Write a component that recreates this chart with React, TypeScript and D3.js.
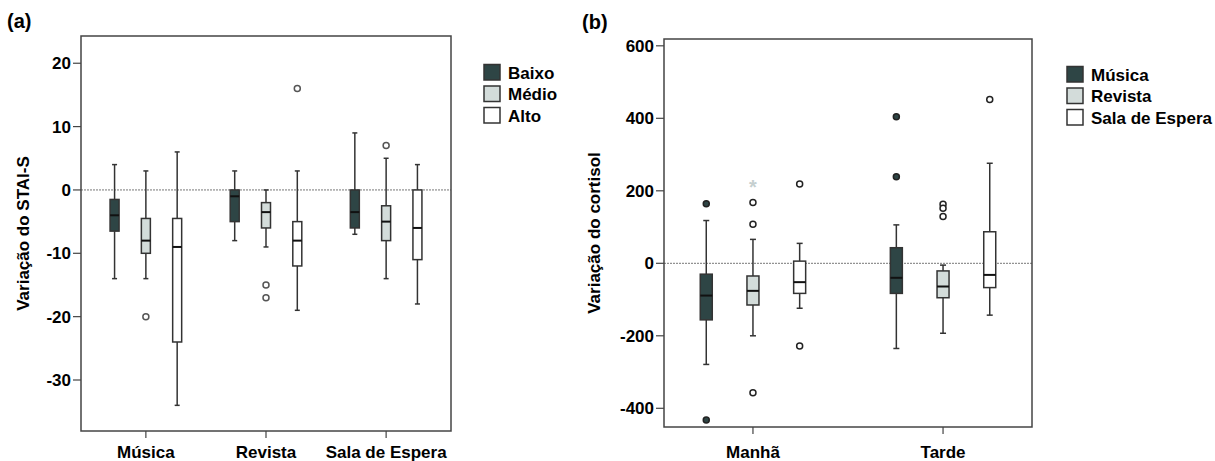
import React from "react";
import * as d3 from "d3";

// ---------- Panel (a) data ----------
const categoriesA = ["Música", "Revista", "Sala de Espera"];
const seriesA = ["Baixo", "Médio", "Alto"];
// [lowerWhisker, q1, median, q3, upperWhisker] per category, per series
const statsMusicaA = [[-14, -6.5, -4, -1.5, 4], [-14, -10, -8, -4.5, 3], [-34, -24, -9, -4.5, 6]];
const statsRevistaA = [[-8, -5, -1, 0, 3], [-9, -6, -3.5, -2, 0], [-19, -12, -8, -5, 3]];
const statsSalaA = [[-7, -6, -3.5, 0, 9], [-14, -8, -5, -2.5, 5], [-18, -11, -6, 0, 4]];
const outliersMusicaA = [[], [-20], []];
const outliersRevistaA = [[], [-15, -17], [16]];
const outliersSalaA = [[], [7], []];
const ticksA = [20, 10, 0, -10, -20, -30];

// ---------- Panel (b) data ----------
const categoriesB = ["Manhã", "Tarde"];
const seriesB = ["Música", "Revista", "Sala de Espera"];
const statsManhaB = [[-279, -156, -89, -30, 118], [-200, -115, -76, -35, 66], [-124, -83, -52, 6, 55]];
const statsTardeB = [[-235, -83, -40, 43, 106], [-193, -95, -64, -21, -5], [-143, -67, -32, 87, 276]];
const outliersManhaB = [[164, -432], [168, 108, -357], [219, -228]];
const outliersTardeB = [[404, 239], [163, 152, 129], [452]];
const extremesManhaB = [[], [221], []];
const extremesTardeB = [[], [], []];
const ticksB = [600, 400, 200, 0, -200, -400];

const fills = ["#2e4545", "#d3dcda", "#ffffff"];
const FONT = "'Liberation Sans', Arial, Helvetica, sans-serif";

type PanelProps = {
  label: string;
  title: string;
  categories: string[];
  series: string[];
  stats: number[][][];
  outliers: number[][][];
  extremes: number[][][];
  ticks: number[];
  frame: { x0: number; x1: number; y0: number; y1: number };
  yDomain: [number, number];
  padding: number;
  offset: number;
  boxW: number;
  capW: number;
  filledOutlier: boolean;
  outlierStroke: string;
  labelPos: [number, number];
  titleX: number;
  legendX: number;
  legendY: number;
};

function Panel(p: PanelProps) {
  const { x0, x1, y0, y1 } = p.frame;
  const y = d3.scaleLinear().domain(p.yDomain).range([y1, y0]);
  const x = d3.scalePoint<string>().domain(p.categories).range([x0, x1]).padding(p.padding);
  const inner = d3.scalePoint<string>().domain(p.series).range([-p.offset, p.offset]);
  const stroke = "#333";
  return (
    <g>
      <text x={p.labelPos[0]} y={p.labelPos[1]} fontSize={20} fontWeight="bold" fontFamily={FONT}>{p.label}</text>
      {/* zero reference line */}
      <line x1={x0} x2={x1} y1={y(0)} y2={y(0)} stroke="#777" strokeWidth={1} strokeDasharray="2,1" />
      {/* boxes */}
      {p.categories.map((c, ci) =>
        p.series.map((s, si) => {
          const [lo, q1, med, q3, hi] = p.stats[ci][si];
          const cx = (x(c) as number) + (inner(s) as number);
          return (
            <g key={c + s}>
              <line x1={cx} x2={cx} y1={y(hi)} y2={y(q3)} stroke={stroke} strokeWidth={1.5} />
              <line x1={cx} x2={cx} y1={y(q1)} y2={y(lo)} stroke={stroke} strokeWidth={1.5} />
              <line x1={cx - p.capW / 2} x2={cx + p.capW / 2} y1={y(hi)} y2={y(hi)} stroke={stroke} strokeWidth={1.5} />
              <line x1={cx - p.capW / 2} x2={cx + p.capW / 2} y1={y(lo)} y2={y(lo)} stroke={stroke} strokeWidth={1.5} />
              <rect x={cx - p.boxW / 2} y={y(q3)} width={p.boxW} height={y(q1) - y(q3)} fill={fills[si]} stroke={stroke} strokeWidth={1.5} />
              <line x1={cx - p.boxW / 2} x2={cx + p.boxW / 2} y1={y(med)} y2={y(med)} stroke="#111" strokeWidth={2} />
              {p.outliers[ci][si].map((v, k) => (
                <circle key={k} cx={cx} cy={y(v)} r={3} fill={p.filledOutlier && si === 0 ? fills[0] : "#fff"} stroke={p.filledOutlier && si === 0 ? "#222" : p.outlierStroke} strokeWidth={1.5} />
              ))}
              {p.extremes[ci][si].map((v, k) => (
                <text key={"e" + k} x={cx} y={y(v)} dy="0.55em" textAnchor="middle" fontSize={20} fontWeight="bold" fill="#c5cfcf" fontFamily={FONT}>*</text>
              ))}
            </g>
          );
        })
      )}
      {/* frame */}
      <rect x={x0} y={y0} width={x1 - x0} height={y1 - y0} fill="none" stroke="#444" strokeWidth={1.5} />
      {/* y ticks */}
      {p.ticks.map((t) => (
        <g key={t}>
          <line x1={x0 - 8} x2={x0} y1={y(t)} y2={y(t)} stroke="#444" strokeWidth={1.2} />
          <text x={x0 - 10} y={y(t)} dy="0.36em" textAnchor="end" fontSize={17} fontWeight="bold" fontFamily={FONT}>{t}</text>
        </g>
      ))}
      {/* x ticks */}
      {p.categories.map((c) => (
        <g key={c}>
          <line x1={x(c)} x2={x(c)} y1={y1} y2={y1 + 7} stroke="#444" strokeWidth={1.2} />
          <text x={x(c)} y={458} textAnchor="middle" fontSize={17} fontWeight="bold" fontFamily={FONT}>{c}</text>
        </g>
      ))}
      {/* y title */}
      <text transform={`translate(${p.titleX},${(y0 + y1) / 2}) rotate(-90)`} textAnchor="middle" fontSize={17} fontWeight="bold" fontFamily={FONT}>{p.title}</text>
      {/* legend */}
      {p.series.map((s, si) => (
        <g key={s} transform={`translate(${p.legendX},${p.legendY + si * 21.5})`}>
          <rect x={0} y={0} width={16} height={15.5} fill={fills[si]} stroke="#333" strokeWidth={1.5} />
          <text x={24} y={8} dy="0.36em" fontSize={17} fontWeight="bold" fontFamily={FONT}>{s}</text>
        </g>
      ))}
    </g>
  );
}

export default function App() {
  return (
    <svg width={1215} height={461} style={{ position: "absolute", left: 0, top: 0, background: "#fff" }}>
      <rect width={1215} height={461} fill="#fff" />
      <Panel
        label="(a)"
        title="Variação do STAI-S"
        categories={categoriesA}
        series={seriesA}
        stats={[statsMusicaA, statsRevistaA, statsSalaA]}
        outliers={[outliersMusicaA, outliersRevistaA, outliersSalaA]}
        extremes={[[[], [], []], [[], [], []], [[], [], []]]}
        ticks={ticksA}
        frame={{ x0: 81, x1: 451, y0: 36, y1: 431 }}
        yDomain={[-38.05, 24.3]}
        padding={0.54}
        offset={31.3}
        boxW={9}
        capW={5}
        filledOutlier={false}
        outlierStroke="#555"
        labelPos={[7, 28]}
        titleX={29}
        legendX={484}
        legendY={64.5}
      />
      <Panel
        label="(b)"
        title="Variação do cortisol"
        categories={categoriesB}
        series={seriesB}
        stats={[statsManhaB, statsTardeB]}
        outliers={[outliersManhaB, outliersTardeB]}
        extremes={[extremesManhaB, extremesTardeB]}
        ticks={ticksB}
        frame={{ x0: 664, x1: 1032, y0: 39, y1: 427 }}
        yDomain={[-451.6, 618.8]}
        padding={0.468}
        offset={46.7}
        boxW={12}
        capW={6}
        filledOutlier={true}
        outlierStroke="#222"
        labelPos={[582, 29]}
        titleX={600}
        legendX={1067}
        legendY={66.5}
      />
    </svg>
  );
}
